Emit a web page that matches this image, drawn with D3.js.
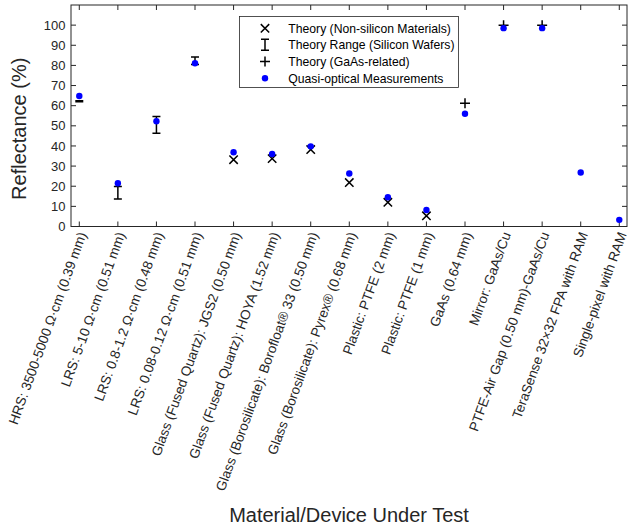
<!DOCTYPE html>
<html>
<head>
<meta charset="utf-8">
<script src="https://cdn.jsdelivr.net/npm/d3@7/dist/d3.min.js"></script>
<style>
  html, body { margin: 0; padding: 0; background: #fff; }
  svg { display: block; font-family: "Liberation Sans", Arial, Helvetica, sans-serif; }
</style>
</head>
<body>
<div id="chart"></div>
<script>
// Materials / devices under test, one per x position
const categories = [
  "HRS: 3500-5000 Ω·cm (0.39 mm)",
  "LRS: 5-10 Ω·cm (0.51 mm)",
  "LRS: 0.8-1.2 Ω·cm (0.48 mm)",
  "LRS: 0.08-0.12 Ω·cm (0.51 mm)",
  "Glass (Fused Quartz): JGS2 (0.50 mm)",
  "Glass (Fused Quartz): HOYA (1.52 mm)",
  "Glass (Borosilicate): Borofloat® 33  (0.50 mm)",
  "Glass (Borosilicate): Pyrex® (0.68 mm)",
  "Plastic: PTFE (2 mm)",
  "Plastic: PTFE (1 mm)",
  "GaAs (0.64 mm)",
  "Mirror: GaAs/Cu",
  "PTFE-Air Gap (0.50 mm)-GaAs/Cu",
  "TeraSense 32×32 FPA with RAM",
  "Single-pixel with RAM"
];

// Quasi-optical measurements (%), one per category
const measured = [64.8, 21.5, 52.3, 81.1, 36.9, 36.0, 39.8, 26.3, 14.5, 8.2, 56.0, 98.5, 98.5, 26.8, 3.3];

// Theory range for silicon wafers (categories 1-4): [low, high]
const siliconIdx  = [1, 2, 3, 4];
const siliconLow  = [62.0, 13.7, 46.3, 80.5];
const siliconHigh = [62.5, 19.9, 54.6, 84.2];

// Theory for non-silicon materials (categories 5-10)
const nonSiIdx    = [5, 6, 7, 8, 9, 10];
const nonSiTheory = [33.2, 33.7, 38.2, 21.8, 12.0, 5.3];

// Theory for GaAs-related samples (categories 11-13)
const gaasIdx     = [11, 12, 13];
const gaasTheory  = [61.2, 100, 100];

const yTicks = [0, 10, 20, 30, 40, 50, 60, 70, 80, 90, 100];

const legendLabels = [
  "Theory (Non-silicon Materials)",
  "Theory Range (Silicon Wafers)",
  "Theory (GaAs-related)",
  "Quasi-optical Measurements"
];

const W = 628, H = 528;
const m = { left: 71, right: 1, top: 5, bottom: 301.5 };
const axisColor = "#262626";
const dotColor = "#0000ff";

const svg = d3.select("#chart").append("svg")
  .attr("width", W).attr("height", H);
svg.append("rect").attr("width", W).attr("height", H).attr("fill", "#fff");

const x = d3.scaleLinear().domain([0.785, 15.2]).range([m.left, W - m.right]);
const y = d3.scaleLinear().domain([0, 110]).range([H - m.bottom, m.top]);

const x0 = x.range()[0], x1 = x.range()[1];
const y0 = y.range()[0], y1 = y.range()[1];
const idx = d3.range(1, categories.length + 1);

// axes box with inward ticks on all four sides
const axes = svg.append("g").attr("stroke", axisColor).attr("stroke-width", 1).attr("fill", "none");
const tickLen = 5;
axes.selectAll(".xtb").data(idx).join("line")
  .attr("x1", d => x(d)).attr("x2", d => x(d)).attr("y1", y0).attr("y2", y0 - tickLen);
axes.selectAll(".xtt").data(idx).join("line")
  .attr("x1", d => x(d)).attr("x2", d => x(d)).attr("y1", y1).attr("y2", y1 + tickLen);
axes.selectAll(".ytl").data(yTicks).join("line")
  .attr("x1", x0).attr("x2", x0 + tickLen).attr("y1", d => y(d)).attr("y2", d => y(d));
axes.selectAll(".ytr").data(yTicks).join("line")
  .attr("x1", x1).attr("x2", x1 - tickLen).attr("y1", d => y(d)).attr("y2", d => y(d));
axes.append("rect")
  .attr("x", x0).attr("y", y1).attr("width", x1 - x0).attr("height", y0 - y1);

// y tick labels
svg.append("g").selectAll("text").data(yTicks).join("text")
  .attr("x", x0 - 5.5).attr("y", d => y(d)).attr("dy", "0.36em")
  .attr("text-anchor", "end").attr("font-size", 13).attr("fill", axisColor)
  .text(d => d);

// rotated x tick labels
svg.append("g").selectAll("text").data(categories).join("text")
  .attr("text-anchor", "end").attr("font-size", 13.6).attr("fill", axisColor)
  .attr("transform", (d, i) => `translate(${x(i + 1) + 3},${y0 + 6}) rotate(-70)`)
  .attr("dy", "0.35em")
  .text(d => d);

// axis titles
svg.append("text").attr("x", (x0 + x1) / 2).attr("y", 521.5)
  .attr("text-anchor", "middle").attr("font-size", 20).attr("fill", axisColor)
  .text("Material/Device Under Test");
svg.append("text")
  .attr("transform", `translate(26,${(y0 + y1) / 2 + 13}) rotate(-90)`)
  .attr("text-anchor", "middle").attr("font-size", 20).attr("fill", axisColor)
  .text("Reflectance (%)");

// marker helpers
const xs = 4.2, ps = 5, cap = 4;
function drawX(g, cx, cy) {
  g.append("path").attr("d", `M${cx - xs},${cy - xs}L${cx + xs},${cy + xs}M${cx - xs},${cy + xs}L${cx + xs},${cy - xs}`)
    .attr("stroke", "#000").attr("stroke-width", 1.5).attr("fill", "none");
}
function drawPlus(g, cx, cy) {
  g.append("path").attr("d", `M${cx - ps},${cy}L${cx + ps},${cy}M${cx},${cy - ps}L${cx},${cy + ps}`)
    .attr("stroke", "#000").attr("stroke-width", 1.5).attr("fill", "none");
}
function drawRange(g, cx, ylo, yhi) {
  g.append("path").attr("d", `M${cx},${ylo}L${cx},${yhi}M${cx - cap},${ylo}L${cx + cap},${ylo}M${cx - cap},${yhi}L${cx + cap},${yhi}`)
    .attr("stroke", "#000").attr("stroke-width", 1.5).attr("fill", "none");
}

const marks = svg.append("g");
nonSiIdx.forEach((c, i) => drawX(marks, x(c), y(nonSiTheory[i])));
siliconIdx.forEach((c, i) => drawRange(marks, x(c), y(siliconLow[i]), y(siliconHigh[i])));
gaasIdx.forEach((c, i) => drawPlus(marks, x(c), y(gaasTheory[i])));
marks.selectAll("circle").data(measured).join("circle")
  .attr("cx", (d, i) => x(i + 1)).attr("cy", d => y(d)).attr("r", 3.2)
  .attr("fill", dotColor);

// legend
const lg = svg.append("g");
lg.append("rect").attr("x", 239.5).attr("y", 16.5).attr("width", 219).attr("height", 71)
  .attr("fill", "#fff").attr("stroke", axisColor).attr("stroke-width", 0.8);
const rowY = [28.3, 44.8, 61.5, 78.2];
const symX = 265;
drawX(lg, symX, rowY[0]);
drawRange(lg, symX, rowY[1] + 5.5, rowY[1] - 5.5);
drawPlus(lg, symX, rowY[2]);
lg.append("circle").attr("cx", symX).attr("cy", rowY[3]).attr("r", 3.2).attr("fill", dotColor);
lg.selectAll("text").data(legendLabels).join("text")
  .attr("x", 288.3).attr("y", (d, i) => rowY[i]).attr("dy", "0.36em")
  .attr("font-size", 12.2).attr("fill", "#000")
  .text(d => d);
</script>
</body>
</html>
